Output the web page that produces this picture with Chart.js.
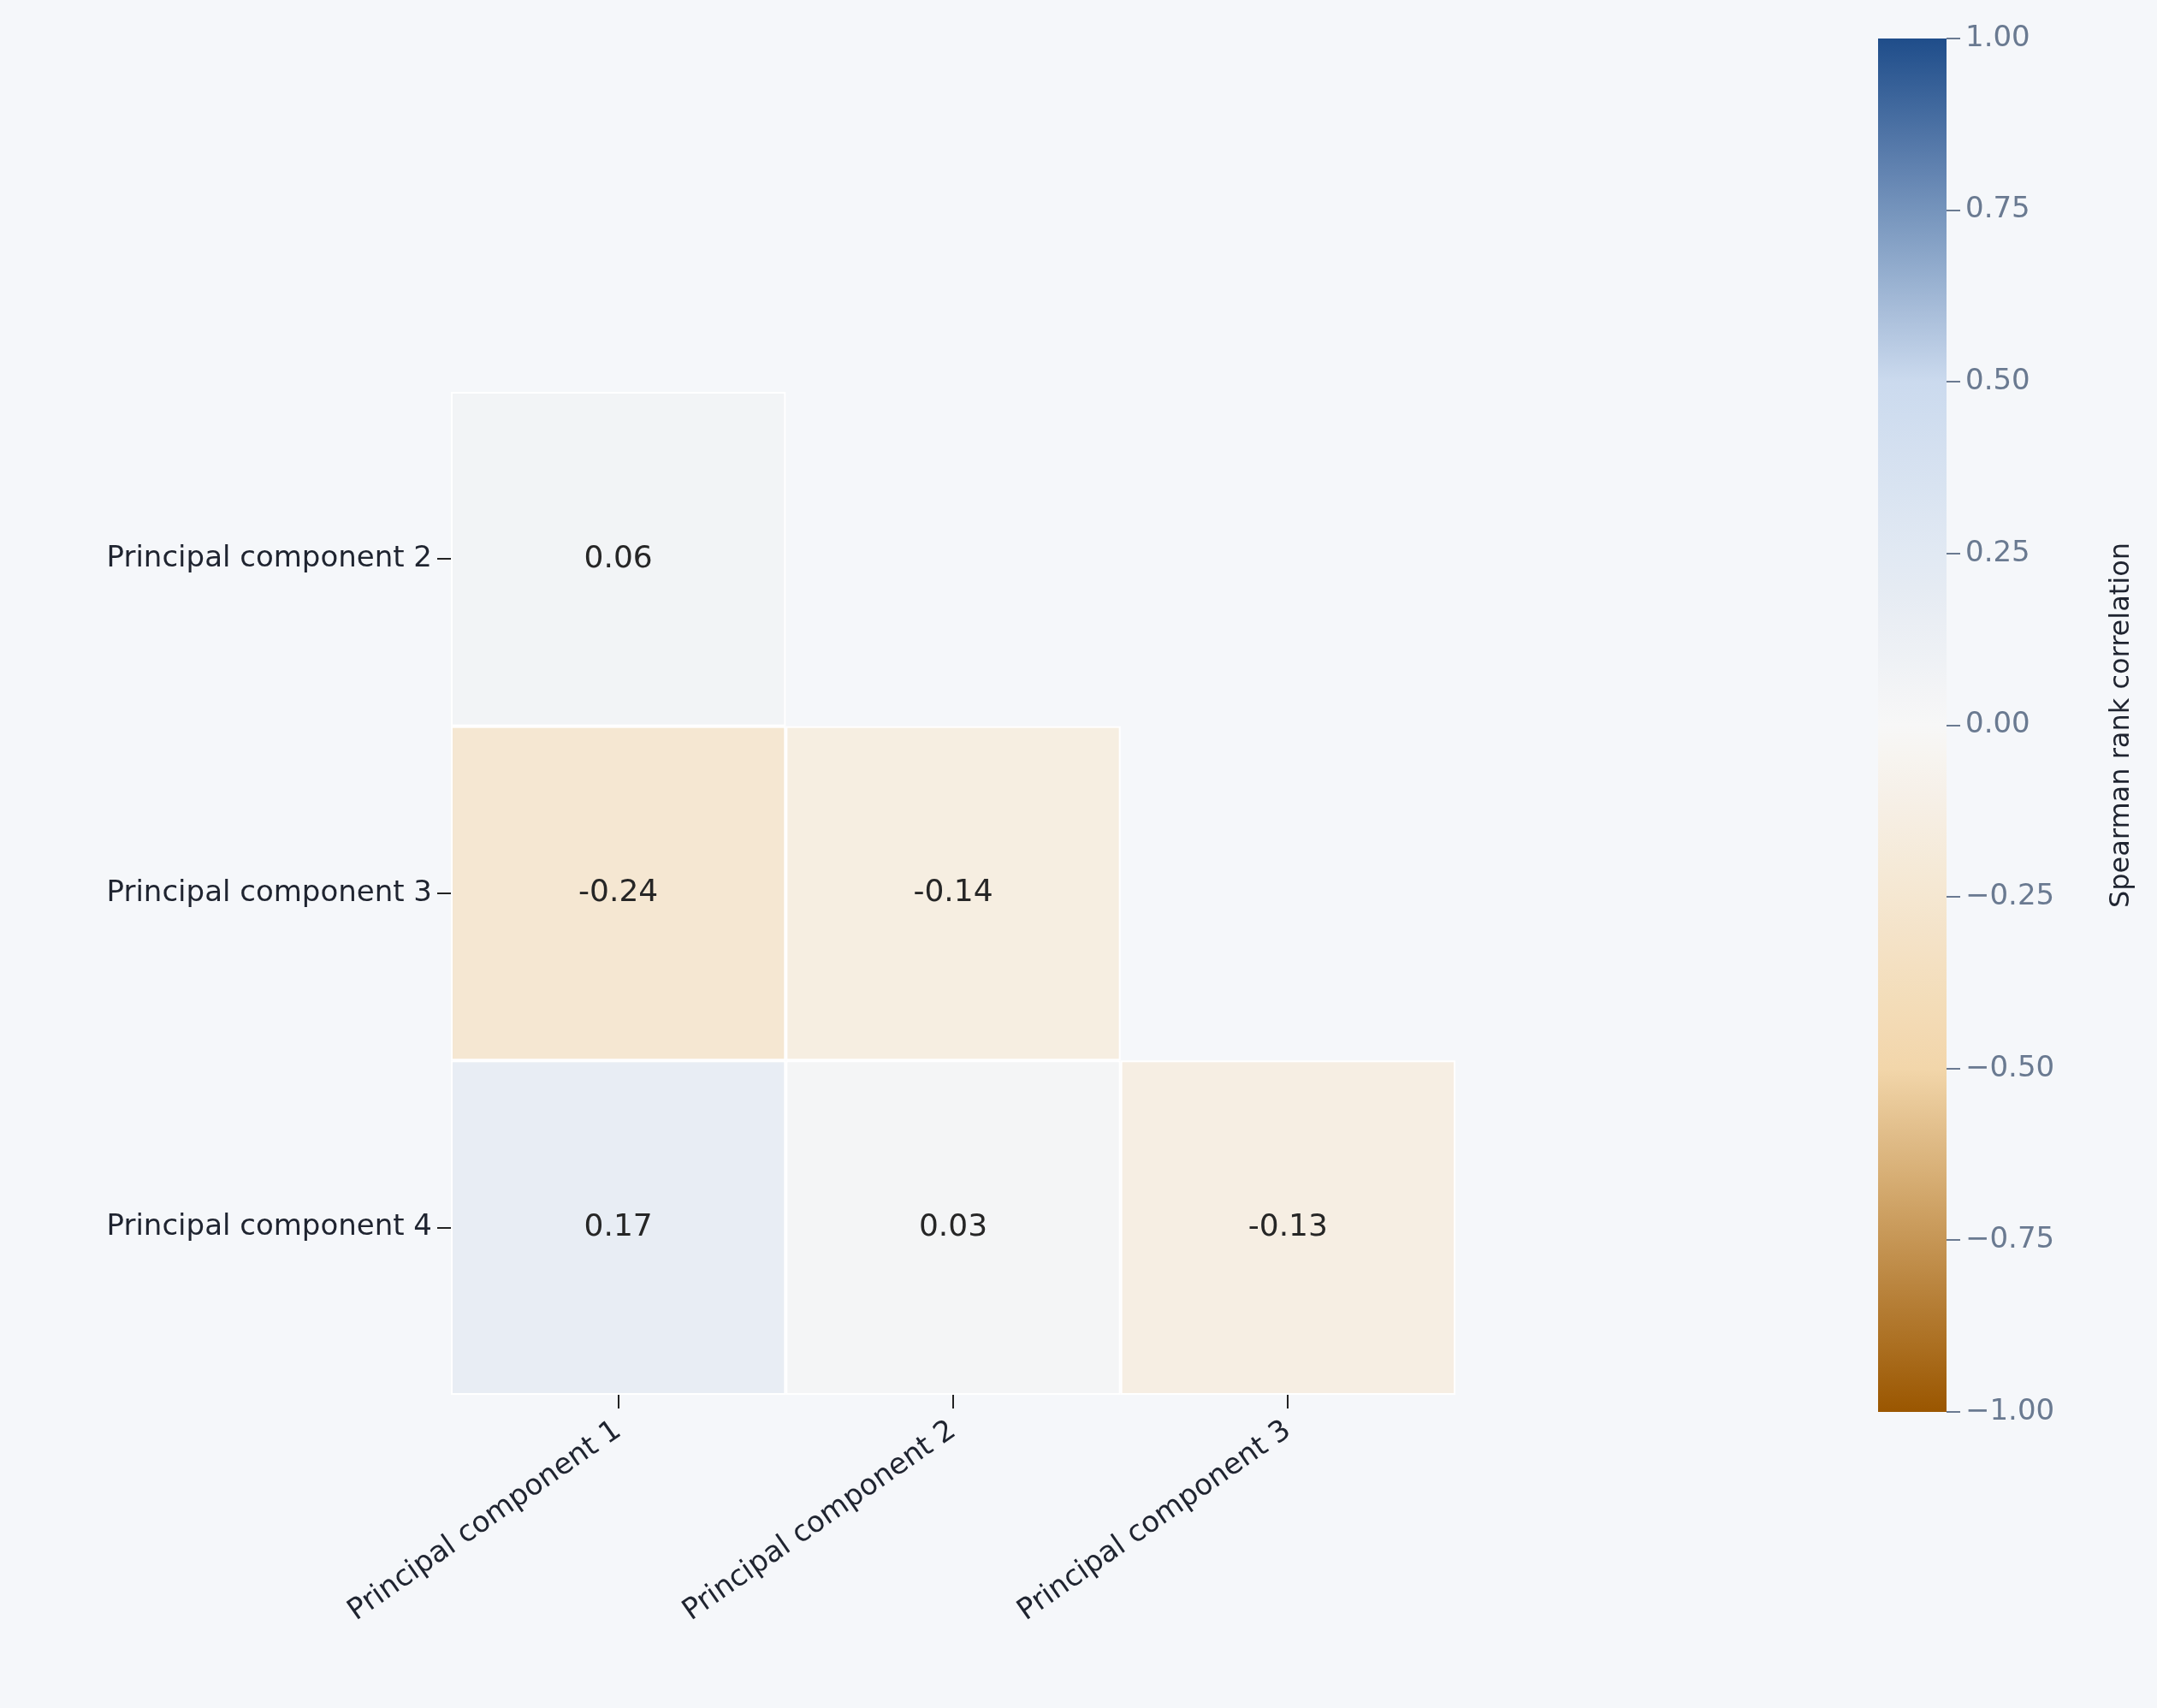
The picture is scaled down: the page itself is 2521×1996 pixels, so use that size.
<!DOCTYPE html>
<html><head><meta charset="utf-8">
<script src="https://cdn.jsdelivr.net/npm/chart.js@4"></script>
<style>
html,body{margin:0;padding:0;background:#f5f7fa;width:2521px;height:1996px;overflow:hidden}
canvas{position:absolute;top:0}
</style></head><body>
<canvas id="hm" width="1900" height="1996" style="left:0;width:1900px;height:1996px"></canvas>
<canvas id="cb" width="371" height="1996" style="left:2150px;width:371px;height:1996px"></canvas>
<script>
const xLabels = ["Principal component 1","Principal component 2","Principal component 3"];
const yLabels = ["Principal component 2","Principal component 3","Principal component 4"];
const row0 = [0.06, null, null];
const row1 = [-0.24, -0.14, null];
const row2 = [0.17, 0.03, -0.13];
const matrix = [row0,row1,row2];
const cbTicks = [-1,-0.75,-0.5,-0.25,0,0.25,0.5,0.75,1];
const cbTitle = "Spearman rank correlation";

const stops=[[-1,[154,86,0]],[-0.5,[242,214,170]],[0,[247,247,247]],[0.5,[203,218,238]],[1,[31,77,138]]];
function cmap(v){
  for(let i=0;i<stops.length-1;i++){
    const [a,ca]=stops[i],[b,cb]=stops[i+1];
    if(v>=a&&v<=b){const t=(v-a)/(b-a);
      return `rgb(${ca.map((c,k)=>Math.round(c+(cb[k]-c)*t)).join(',')})`;}
  }
  return 'rgb(247,247,247)';
}
const FONT='DejaVu Sans';
const pts=[];
matrix.forEach((r,i)=>r.forEach((v,j)=>{if(v!==null)pts.push({x:j+0.5,y:i+0.5,v});}));

const cellPlugin={id:'cells',beforeDatasetsDraw(ch){
  const ctx=ch.ctx,xs=ch.scales.x,ys=ch.scales.y;
  ctx.save();
  pts.forEach(p=>{
    const x0=xs.getPixelForValue(p.x-0.5),x1=xs.getPixelForValue(p.x+0.5);
    const y0=ys.getPixelForValue(p.y-0.5),y1=ys.getPixelForValue(p.y+0.5);
    ctx.fillStyle='#ffffff';ctx.fillRect(x0,y0,x1-x0,y1-y0);
    ctx.fillStyle=cmap(p.v);ctx.fillRect(x0+2,y0+2,x1-x0-4,y1-y0-4);
    ctx.fillStyle='#262626';ctx.font=`36px "${FONT}"`;ctx.textAlign='center';ctx.textBaseline='middle';
    ctx.fillText(p.v.toFixed(2),xs.getPixelForValue(p.x),ys.getPixelForValue(p.y));
  });
  ctx.restore();
}};
const setTicks=s=>{s.ticks=[0.5,1.5,2.5].map(v=>({value:v}));};
new Chart(document.getElementById('hm'),{
  type:'scatter',
  data:{datasets:[{data:pts,pointRadius:0}]},
  options:{responsive:false,animation:false,events:[],
    layout:{padding:{top:458,right:199,left:0,bottom:0}},
    plugins:{legend:{display:false},tooltip:{enabled:false}},
    scales:{
      x:{type:'linear',min:0,max:3,afterBuildTicks:setTicks,afterFit:s=>{s.height=366;},
        grid:{drawOnChartArea:false,tickLength:16,color:'#222',lineWidth:2},border:{display:false},
        ticks:{minRotation:35,maxRotation:35,color:'#1f2430',font:{family:FONT,size:34},padding:6,
          callback:v=>xLabels[Math.floor(v)]}},
      y:{type:'linear',min:0,max:3,reverse:true,afterBuildTicks:setTicks,afterFit:s=>{s.width=527;},
        grid:{drawOnChartArea:false,tickLength:16,color:'#222',lineWidth:2},border:{display:false},
        ticks:{color:'#1f2430',font:{family:FONT,size:34},padding:6,
          callback:v=>yLabels[Math.floor(v)]}}
    }},
  plugins:[cellPlugin]
});

const cbPlugin={id:'cbar',beforeDatasetsDraw(ch){
  const ctx=ch.ctx,a=ch.chartArea,ys=ch.scales.y;
  const g=ctx.createLinearGradient(0,ys.getPixelForValue(-1),0,ys.getPixelForValue(1));
  for(let i=0;i<=40;i++){const v=-1+i/20;g.addColorStop(i/40,cmap(v));}
  ctx.save();ctx.fillStyle=g;ctx.fillRect(a.left,a.top,a.right-a.left,a.bottom-a.top);
  ctx.translate(a.right+205,(a.top+a.bottom)/2);ctx.rotate(-Math.PI/2);
  ctx.fillStyle='#1f2430';ctx.font=`32px "${FONT}"`;ctx.textAlign='center';ctx.textBaseline='middle';
  ctx.fillText(cbTitle,0,0);ctx.restore();
}};
new Chart(document.getElementById('cb'),{
  type:'scatter',data:{datasets:[{data:[],pointRadius:0}]},
  options:{responsive:false,animation:false,events:[],
    layout:{padding:{top:45,left:45,bottom:0,right:0}},
    plugins:{legend:{display:false},tooltip:{enabled:false}},
    scales:{
      x:{display:false,min:0,max:1},
      y:{position:'right',min:-1,max:1,afterBuildTicks:s=>{s.ticks=cbTicks.map(v=>({value:v}));},
        afterFit:s=>{s.width=246;},
        grid:{drawOnChartArea:false,tickLength:16,color:'#6a7a91',lineWidth:2},border:{display:false},
        ticks:{color:'#6a7a91',font:{family:FONT,size:34},padding:6,
          callback:v=>(v<0?'\u2212':'')+Math.abs(v).toFixed(2)}}
    }},
  plugins:[cbPlugin,{id:'pad',afterFit(){} }]
});
// bottom padding for colorbar via x axis height
Chart.getChart('cb').options.scales.x.display=true;
Chart.getChart('cb').options.scales.x.afterFit=s=>{s.height=346;};
Chart.getChart('cb').options.scales.x.ticks={display:false};
Chart.getChart('cb').options.scales.x.grid={display:false};
Chart.getChart('cb').options.scales.x.border={display:false};
Chart.getChart('cb').update();
</script></body></html>
